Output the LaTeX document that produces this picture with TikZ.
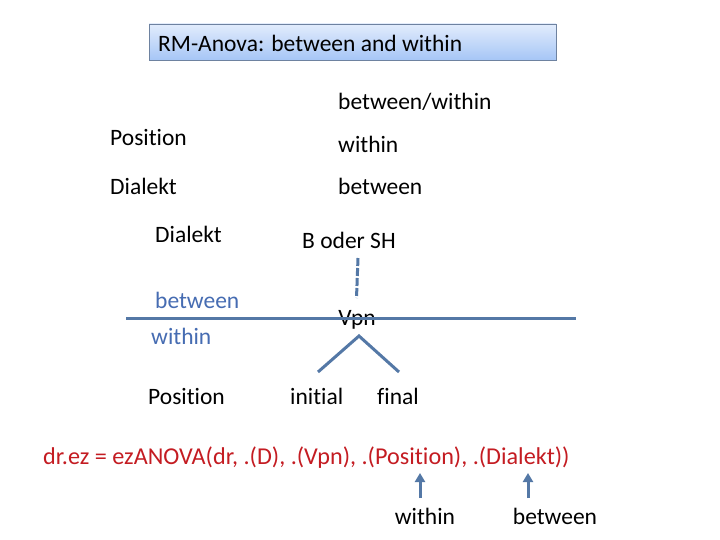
\documentclass[tikz,border=0pt]{standalone}
\usepackage{fontspec}
\setmainfont{Carlito}[Ligatures={NoCommon}]
\usetikzlibrary{arrows.meta}
\definecolor{steel}{RGB}{84,120,166}
\definecolor{bluetxt}{RGB}{70,108,178}
\definecolor{redtxt}{RGB}{196,28,34}
\definecolor{boxtop}{RGB}{226,236,252}
\definecolor{boxbot}{RGB}{166,198,246}
\definecolor{boxline}{RGB}{110,130,160}
\begin{document}
\begin{tikzpicture}[x=1pt,y=-1pt,
  lbl/.style={anchor=west,inner sep=0pt,font=\fontsize{23.5}{28}\selectfont},
  bl/.style={lbl,text=bluetxt},
  ln/.style={draw=steel,line width=3pt},
  arr/.style={draw=steel,line width=3pt,-{Triangle[width=10pt,length=9pt]}}]
\fill[white] (0,0) rectangle (720,540);
\useasboundingbox (0,0) rectangle (720,540);
% title box
\shade[top color=boxtop,bottom color=boxbot] (149,24) rectangle (556,60);
\draw[boxline,line width=0.8pt] (149,24) rectangle (556,60);
\node[lbl] (title) at (158,43) {RM-Anova: between and within};
% table
\node[lbl] (bw) at (338,102) {between/within};
\node[lbl] (pos1) at (110,138) {Position};
\node[lbl] (win1) at (338,144) {within};
\node[lbl] (dia1) at (110,186) {Dialekt};
\node[lbl] (btw1) at (338,186) {between};
% tree
\node[lbl] (dia2) at (155,234) {Dialekt};
\node[lbl] (boder) at (302,240) {B oder SH};
\coordinate (d1) at (358,258);
\coordinate (d2) at (356.5,298);
\draw[ln,dash pattern=on 8pt off 2pt] (d1) -- (d2);
\node[bl] (btw2) at (155,300) {between};
\node[lbl,anchor=center] (vpn) at (357,320) {Vpn};
\coordinate (hl) at (126,318);
\coordinate (hr) at (576,318);
\draw[ln] (hl) -- (hr);
\node[bl] (win2) at (151,336) {within};
\coordinate (apex) at (359,336);
\coordinate (tl) at (318,372);
\coordinate (tr) at (399,372);
\draw[ln] (tl) -- (apex) -- (tr);
\node[lbl] (pos2) at (148,396) {Position};
\node[lbl] (ini) at (290,396) {initial};
\node[lbl] (fin) at (377,396) {final};
% code
\node[lbl,text=redtxt,font=\fontsize{24.2}{28}\selectfont] (code) at (43,458) {dr.ez = ezANOVA(dr, .(D), .(Vpn), .(Position), .(Dialekt))};
\node[lbl,anchor=center] (win3) at (425,516) {within};
\node[lbl,anchor=center] (btw3) at (555,516) {between};
\coordinate (a1s) at (420,498);
\coordinate (a1e) at (420,473);
\coordinate (a2s) at (528,498);
\coordinate (a2e) at (528,473);
\draw[arr] (a1s) -- (a1e);
\draw[arr] (a2s) -- (a2e);
\end{tikzpicture}
\end{document}
